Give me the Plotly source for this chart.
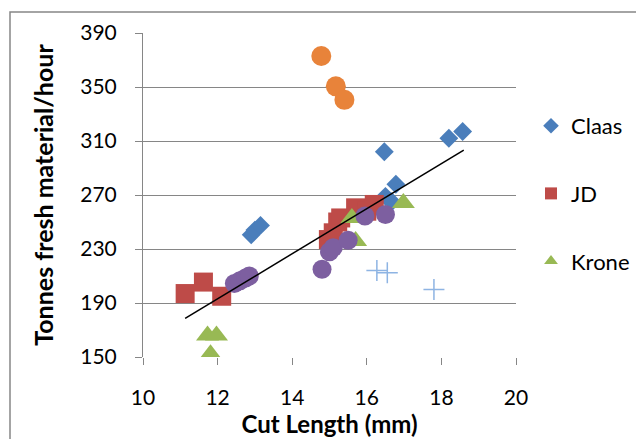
import plotly.graph_objects as go

# Data
claas_x = [12.9, 13.0, 13.15, 16.47, 16.5, 16.67, 16.78, 18.2, 18.57]
claas_y = [240.5, 244.0, 247.5, 302.0, 269.0, 265.0, 278.0, 312.0, 317.0]

jd_x = [11.13, 11.62, 12.11, 14.97, 15.1, 15.22, 15.3, 15.7, 16.0, 16.2]
jd_y = [197.0, 205.5, 195.0, 237.0, 242.0, 250.0, 253.0, 260.5, 258.0, 263.0]

krone_x = [11.73, 11.97, 11.81, 15.6, 15.7, 16.98]
krone_y = [166.0, 166.0, 152.0, 253.0, 236.0, 264.0]

purple_x = [12.45, 12.6, 12.75, 12.85, 14.8, 15.0, 15.1, 15.5, 15.95, 16.5]
purple_y = [204.5, 206.5, 208.5, 210.0, 215.0, 228.0, 231.0, 236.5, 254.5, 255.5]

orange_x = [14.78, 15.17, 15.4]
orange_y = [373.0, 350.5, 340.5]

plus_x = [16.27, 16.55, 17.8]
plus_y = [214.0, 212.5, 200.0]

trend_x = [11.13, 18.6]
trend_y = [178.6, 303.3]

FONT = "Lato"

fig = go.Figure()

fig.add_trace(go.Scatter(x=claas_x, y=claas_y, mode="markers", name="Claas",
                         legendgroup="a",
                         marker=dict(symbol="diamond", size=14.5, color="#4A7EBB")))
fig.add_trace(go.Scatter(x=jd_x, y=jd_y, mode="markers", name="JD",
                         legendgroup="b",
                         marker=dict(symbol="square", size=19, color="#BE4B48")))
fig.add_trace(go.Scatter(x=krone_x, y=krone_y, mode="markers", name="Krone",
                         legendgroup="c",
                         marker=dict(symbol="triangle-up", size=20, color="#98B954")))
fig.add_trace(go.Scatter(x=purple_x, y=purple_y, mode="markers", name="Other 1",
                         showlegend=False,
                         marker=dict(symbol="circle", size=19, color="#7D5FA0")))
fig.add_trace(go.Scatter(x=orange_x, y=orange_y, mode="markers", name="Other 2",
                         showlegend=False,
                         marker=dict(symbol="circle", size=20, color="#E8833A")))
fig.add_trace(go.Scatter(x=plus_x, y=plus_y, mode="markers", name="Other 3",
                         showlegend=False,
                         marker=dict(symbol="cross-thin", size=15,
                                     line=dict(color="#8EB4E3", width=1.5))))
fig.add_trace(go.Scatter(x=trend_x, y=trend_y, mode="lines", name="Trend",
                         showlegend=False,
                         line=dict(color="black", width=1.5)))

# the page body has an 8px margin, so the figure is drawn offset by (8, 8)
W, H = 636, 431
L, T = 135, 25
pw, ph = 373, 324
R, B = W - L - pw, H - T - ph
bottom = T + ph

fig.update_layout(
    width=W, height=H,
    margin=dict(l=L, r=R, t=T, b=B, autoexpand=False),
    paper_bgcolor="white", plot_bgcolor="white",
    font=dict(family=FONT, size=21, color="black"),
    showlegend=True,
    legend=dict(x=(523 - L) / pw, y=(bottom - 97) / ph, xanchor="left", yanchor="top",
                font=dict(family=FONT, size=22, color="black"),
                tracegroupgap=36, itemsizing="constant",
                bgcolor="rgba(0,0,0,0)"),
    xaxis=dict(range=[10, 20], dtick=2, tick0=10, showgrid=False,
               showline=False, zeroline=False, automargin=False,
               ticks="outside", ticklen=7, tickcolor="#868686",
               ticklabelstandoff=15,
               tickfont=dict(family=FONT, size=21),
               title=dict(text="<b>Cut Length (mm)</b>", standoff=6,
                          font=dict(family=FONT, size=24))),
    yaxis=dict(range=[150, 390], dtick=40, tick0=150, showgrid=True,
               gridcolor="#868686", gridwidth=1,
               showline=True, linecolor="#868686", linewidth=1,
               zeroline=False, automargin=False,
               ticks="outside", ticklen=7, tickcolor="#868686",
               ticklabelstandoff=14,
               tickfont=dict(family=FONT, size=21),
               title=dict(text="<b>Tonnes fresh material/hour</b>", standoff=19,
                          font=dict(family=FONT, size=25))),
    shapes=[dict(type="rect", xref="paper", yref="paper",
                 x0=(2 - L) / pw, x1=(W + 20 - L) / pw,
                 y0=(bottom - (H + 20)) / ph, y1=(bottom - 4) / ph,
                 line=dict(color="#868686", width=1.5), layer="below")],
)

fig.write_html("out.html")
